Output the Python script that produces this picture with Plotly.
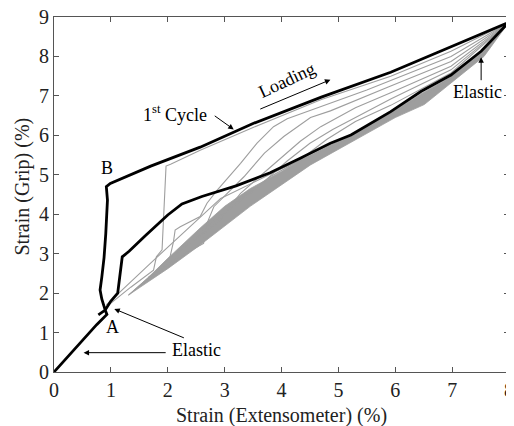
import plotly.graph_objects as go

# ---- data (strain %) ----
black_x = [0, 0.25, 0.5, 0.75, 0.93, 0.90, 0.84, 0.81, 0.84, 0.88, 0.91, 0.93, 0.94, 0.92, 0.99,
           1.7, 2.57, 3.5, 4.7, 5.92, 6.98, 8.0,
           7.51, 6.98, 6.45, 5.92, 5.22, 4.86, 4.33, 3.8, 3.2, 2.6, 2.25, 2.0, 1.6, 1.32, 1.20,
           1.15, 1.12, 1.0, 0.9, 0.78]
black_y = [0, 0.40, 0.81, 1.20, 1.46, 1.57, 1.85, 2.08, 2.40, 2.90, 3.50, 3.94, 4.36, 4.70, 4.78,
           5.22, 5.70, 6.30, 6.97, 7.60, 8.25, 8.87,
           8.13, 7.53, 7.11, 6.60, 6.01, 5.80, 5.42, 5.05, 4.72, 4.45, 4.26, 3.98, 3.45, 3.06, 2.92,
           2.35, 2.00, 1.80, 1.57, 1.45]

c2_x = [0.92, 1.35, 1.75, 1.80, 1.90, 1.93, 1.95, 1.97, 2.05, 2.57, 3.5, 4.69, 5.92, 6.98, 8.0]
c2_y = [1.65, 2.15, 2.58, 2.92, 3.10, 3.90, 4.60, 5.22, 5.27, 5.62, 6.20, 6.90, 7.50, 8.13, 8.87]
c3_x = [1.31, 1.75, 2.04, 2.10, 2.13, 2.22, 2.57, 2.69, 2.87, 3.28, 3.57, 3.86, 4.1, 4.69, 5.5, 6.98, 8.0]
c3_y = [1.95, 2.50, 2.92, 3.30, 3.60, 3.68, 3.94, 4.28, 4.61, 5.29, 5.80, 6.22, 6.42, 6.73, 7.15, 8.00, 8.87]
c4_x = [1.66, 2.3, 2.63, 2.69, 2.81, 3.04, 3.34, 3.7, 4.04, 4.51, 4.86, 5.92, 6.98, 8.0]
c4_y = [2.40, 3.00, 3.26, 3.77, 4.19, 4.53, 4.95, 5.55, 5.97, 6.45, 6.62, 7.25, 7.87, 8.87]
c5_x = [2.0, 2.6, 2.93, 3.04, 3.28, 3.57, 3.75, 4.33, 4.69, 5.3, 5.92, 6.98, 8.0]
c5_y = [2.85, 3.50, 3.85, 4.10, 4.53, 4.90, 5.12, 5.85, 6.22, 6.70, 7.08, 7.75, 8.87]
c6_x = [2.6, 3.2, 3.6, 3.86, 4.1, 4.5, 4.9, 5.92, 6.98, 8.0]
c6_y = [3.60, 4.25, 4.70, 5.04, 5.35, 5.80, 6.15, 6.92, 7.66, 8.87]
c7_x = [3.2, 3.8, 4.3, 4.8, 5.3, 5.92, 6.98, 8.0]
c7_y = [4.30, 4.95, 5.35, 5.90, 6.35, 6.76, 7.58, 8.87]
u1_x = [0.92, 1.69, 2.93, 4.0, 4.51, 5.5, 6.5, 7.5, 8.0]
u1_y = [1.70, 2.75, 4.40, 5.15, 5.48, 6.22, 7.00, 7.98, 8.87]

band_up_x = [1.31, 1.66, 2.0, 2.57, 3.0, 3.45, 4.0, 4.33, 5.22, 5.92, 6.45, 6.98, 7.51, 8.0]
band_up_y = [1.95, 2.40, 2.88, 3.65, 4.20, 4.65, 5.08, 5.36, 5.98, 6.56, 7.05, 7.48, 8.08, 8.87]
band_lo_x = [1.31, 2.0, 2.57, 3.45, 4.51, 4.98, 6.0, 6.51, 7.56, 8.0]
band_lo_y = [1.95, 2.62, 3.22, 4.20, 5.25, 5.62, 6.45, 6.78, 8.00, 8.87]

x_ticks = [0, 1, 2, 3, 4, 5, 6, 7, 8]
y_ticks = [0, 1, 2, 3, 4, 5, 6, 7, 8, 9]

FONT = "Liberation Serif"
GRAY = "#9e9e9e"

fig = go.Figure()
fig.add_trace(go.Scatter(x=band_up_x + band_lo_x[::-1], y=band_up_y + band_lo_y[::-1],
                         mode="lines", fill="toself", fillcolor=GRAY,
                         line=dict(color=GRAY, width=0.8), hoverinfo="skip"))
for cx, cy in [(c2_x, c2_y), (c3_x, c3_y), (c4_x, c4_y), (c5_x, c5_y),
               (c6_x, c6_y), (c7_x, c7_y), (u1_x, u1_y)]:
    fig.add_trace(go.Scatter(x=cx, y=cy, mode="lines", line=dict(color=GRAY, width=1.1)))
fig.add_trace(go.Scatter(x=black_x, y=black_y, mode="lines",
                         line=dict(color="black", width=2.8)))

ann = []
def txt(x, y, s, angle=0, size=18):
    ann.append(dict(x=x, y=y, xref="x", yref="y", text=s, showarrow=False, textangle=angle,
                    font=dict(family=FONT, size=size, color="black")))
def arrow(x0, y0, x1, y1):
    ann.append(dict(x=x1, y=y1, ax=x0, ay=y0, xref="x", yref="y", axref="x", ayref="y",
                    text="", showarrow=True, arrowhead=2, arrowsize=1.1, arrowwidth=1,
                    arrowcolor="black"))

txt(0.93, 5.17, "B")
txt(1.02, 1.14, "A")
txt(2.51, 0.55, "Elastic")
arrow(1.99, 0.49, 0.52, 0.49)
arrow(2.31, 0.85, 1.06, 1.60)
txt(2.13, 6.55, "1<sup>st</sup> Cycle")
arrow(2.80, 6.52, 3.16, 6.15)
txt(4.10, 7.40, "Loading", angle=-25)
arrow(3.60, 6.65, 4.86, 7.41)
txt(7.45, 7.11, "Elastic")
arrow(7.51, 7.36, 7.51, 7.98)

# axis titles
ann.append(dict(x=0.5, y=0, xref="paper", yref="paper", xanchor="center", yanchor="middle",
                yshift=-43, showarrow=False, text="Strain (Extensometer) (%)",
                font=dict(family=FONT, size=20, color="#222222")))
ann.append(dict(x=0, y=0.5, xref="paper", yref="paper", xanchor="center", yanchor="middle",
                xshift=-32, yshift=8, textangle=-90, showarrow=False, text="Strain (Grip) (%)",
                font=dict(family=FONT, size=20, color="#222222")))

axis_common = dict(showline=True, linecolor="#555555", linewidth=1, mirror="ticks",
                   ticks="inside", ticklen=5, tickcolor="#555555", showgrid=False,
                   zeroline=False, automargin=False, ticklabeloverflow="allow",
                   tickfont=dict(family=FONT, size=20, color="#222222"))

# page body has an 8px margin, so the figure is sized to fit the 514x426 window
fig.update_layout(
    width=506, height=418, showlegend=False,
    paper_bgcolor="white", plot_bgcolor="white",
    margin=dict(l=46, r=5, t=9, b=54),
    annotations=ann,
    xaxis=dict(range=[0, 8], tickvals=x_ticks, **axis_common),
    yaxis=dict(range=[0, 9], tickvals=y_ticks, **axis_common),
)
fig.write_html("out.html")
